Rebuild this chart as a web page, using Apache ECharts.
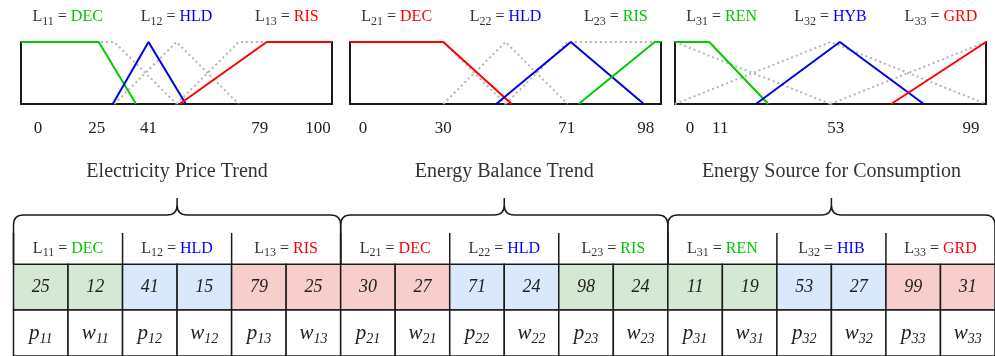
<!DOCTYPE html>
<html><head><meta charset="utf-8">
<script src="https://cdn.jsdelivr.net/npm/echarts@6/dist/echarts.min.js"></script>
<style>html,body{margin:0;padding:0;background:#fff}#c{width:995px;height:356px}</style>
</head><body><div id="c"></div>
<script>
// ---------------- data ----------------
const plotIndex = [['11','12','13'],['21','22','23'],['31','32','33']];
const plotTerms = [['DEC','HLD','RIS'],['DEC','HLD','RIS'],['REN','HYB','GRD']];
const plotTermColors = [['g','b','r'],['r','b','g'],['g','b','r']];
const plotTicks = [[0,25,41,79,100],[0,30,71,98],[0,11,53,99]];
// tuned membership functions (x 0..100, membership 0..1)
const mf1DEC = [[0,1],[25,1],[37,0]];
const mf1HLD = [[29.5,0],[41,1],[53,0]];
const mf1RIS = [[51,0],[79,1],[100,1]];
const mf2DEC = [[0,1],[30,1],[52,0]];
const mf2HLD = [[47,0],[71,1],[94.5,0]];
const mf2RIS = [[73.5,0],[98,1],[100,1]];
const mf3REN = [[0,1],[11,1],[30,0]];
const mf3HYB = [[26,0],[53,1],[80,0]];
const mf3GRD = [[69.5,0],[100,1]];
// initial partitions (grey dotted)
const baseLowA = [[0,1],[30,1],[50,0]];
const baseMidA = [[30,0],[50,1],[70,0]];
const baseHighA = [[50,0],[70,1],[100,1]];
const baseLowB = [[0,1],[50,0]];
const baseMidB = [[0,0],[50,1],[100,0]];
const baseHighB = [[50,0],[100,1]];

const groupTitles = ['Electricity Price Trend','Energy Balance Trend','Energy Source for Consumption'];
const pairIndex = ['11','12','13','21','22','23','31','32','33'];
const pairTerms = ['DEC','HLD','RIS','DEC','HLD','RIS','REN','HIB','GRD'];
const pairColors = ['g','b','r','r','b','g','g','b','r'];
const pValues = [25,41,79,30,71,98,11,53,99];
const wValues = [12,15,25,27,24,24,19,27,31];

// ---------------- styles / layout ----------------
const SERIF = '"Liberation Serif", "DejaVu Serif", serif';
const TXT = {g:'#00c800', b:'#0000ff', r:'#ff0000'};
const LINE = {g:'#00cc00', b:'#0000e6', r:'#ff0000'};
const FILL = {g:'#d5e8d4', b:'#dae8fc', r:'#f8cecc'};
const plotLeft = [21, 350, 675];
const plotW = 311;
const tickShift = [{0:17,25:-2,41:0,79:-7,100:-14},{0:13,30:0,71:-4,98:-9},{0:15,11:11,53:-4,99:-12}];
const labelPos = [15, 50, 85.5];
const tblLeft = 13.5, tblW = 983, colW = tblW/18;

const mfSets = [[mf1DEC,mf1HLD,mf1RIS],[mf2DEC,mf2HLD,mf2RIS],[mf3REN,mf3HYB,mf3GRD]];
const baseSets = [[baseLowA,baseMidA,baseHighA],[baseLowA,baseMidA,baseHighA],[baseLowB,baseMidB,baseHighB]];

const lblRich = {
  L:{fontFamily:SERIF,fontSize:16,fill:'#333'},
  s:{fontFamily:SERIF,fontSize:12,fill:'#333',padding:[9,0,0,0]},
  e:{fontFamily:SERIF,fontSize:16,fill:'#333'},
  g:{fontFamily:SERIF,fontSize:16,fill:TXT.g},
  b:{fontFamily:SERIF,fontSize:16,fill:TXT.b},
  r:{fontFamily:SERIF,fontSize:16,fill:TXT.r}
};
function lblText(idx, term, c){ return '{L|L}{s|'+idx+'}{e| = }{'+c+'|'+term+'}'; }

const grids = plotLeft.map(l => ({left:l, top:42, width:plotW, height:62}));
grids.push({left:tblLeft, top:233, width:tblW, height:126});

const xAxes = [], yAxes = [], series = [];
plotLeft.forEach((l, i) => {
  const rich = {};
  plotTicks[i].forEach(v => {
    const d = tickShift[i][v] || 0;
    rich['t'+v] = {fontFamily:SERIF,fontSize:17,color:'#222',padding: d>=0 ? [0,0,0,2*d] : [0,-2*d,0,0]};
  });
  xAxes.push({gridIndex:i,type:'value',min:0,max:100,splitLine:{show:false},axisTick:{show:false},
    axisLine:{show:true,onZero:false,lineStyle:{color:'#1a1a1a',width:2}},
    axisLabel:{customValues:plotTicks[i],margin:16,fontFamily:SERIF,fontSize:17,color:'#222',
      formatter:v => '{t'+v+'|'+v+'}', rich:rich}});
  yAxes.push({gridIndex:i,type:'value',min:0,max:1,position:'left',splitLine:{show:false},axisTick:{show:false},axisLabel:{show:false},
    axisLine:{show:true,onZero:false,lineStyle:{color:'#1a1a1a',width:2}}});
  yAxes.push({gridIndex:i,type:'value',min:0,max:1,position:'right',splitLine:{show:false},axisTick:{show:false},axisLabel:{show:false},
    axisLine:{show:true,onZero:false,lineStyle:{color:'#1a1a1a',width:2}}});
  baseSets[i].forEach(d => series.push({type:'line',xAxisIndex:i,yAxisIndex:2*i,data:d,showSymbol:false,silent:true,z:2,
    lineStyle:{color:'#b4b4b4',width:2,type:[2,3]}}));
  mfSets[i].forEach((d, k) => series.push({type:'line',xAxisIndex:i,yAxisIndex:2*i,data:d,showSymbol:false,silent:true,z:3,
    lineStyle:{color:LINE[plotTermColors[i][k]],width:2}}));
});
xAxes.push({gridIndex:3,type:'value',min:0,max:18,show:false});
yAxes.push({gridIndex:3,type:'value',min:-0.68,max:2,inverse:true,show:false});

// table cells
const cells = [];
pValues.forEach((p, k) => {
  cells.push({col:2*k,row:0,text:'{n|'+p+'}',fill:FILL[pairColors[k]]});
  cells.push({col:2*k+1,row:0,text:'{n|'+wValues[k]+'}',fill:FILL[pairColors[k]]});
  cells.push({col:2*k,row:1,text:'{m|p}{q|'+pairIndex[k]+'}',fill:'#fff'});
  cells.push({col:2*k+1,row:1,text:'{m|w}{q|'+pairIndex[k]+'}',fill:'#fff'});
});
const cellRich = {
  n:{fontFamily:SERIF,fontStyle:'italic',fontSize:18,fill:'#222'},
  m:{fontFamily:SERIF,fontStyle:'italic',fontSize:21,fill:'#222'},
  q:{fontFamily:SERIF,fontStyle:'italic',fontSize:14,fill:'#222',padding:[12,0,0,0]}
};
series.push({type:'custom',xAxisIndex:3,yAxisIndex:6,silent:true,z:3,
  data:cells.map(c => [c.col,c.row]),
  renderItem:(params, api) => {
    const c = cells[params.dataIndex];
    const a = api.coord([api.value(0), api.value(1)]);
    const b = api.coord([api.value(0)+1, api.value(1)+1]);
    return {type:'group',children:[
      {type:'rect',shape:{x:a[0],y:a[1],width:b[0]-a[0],height:b[1]-a[1]},style:{fill:c.fill,stroke:'#1a1a1a',lineWidth:1.5}},
      {type:'text',style:{x:(a[0]+b[0])/2,y:(a[1]+b[1])/2,text:c.text,rich:cellRich,align:'center',verticalAlign:'middle'}}
    ]};
  }});
// header labels and dividers
series.push({type:'custom',xAxisIndex:3,yAxisIndex:6,silent:true,z:3,
  data:pairIndex.map((s, k) => [2*k, 0]),
  renderItem:(params, api) => {
    const k = params.dataIndex;
    const a = api.coord([api.value(0), -0.68]);
    const b = api.coord([api.value(0)+2, 0]);
    const m = api.coord([api.value(0)+1, -0.34]);
    return {type:'group',children:[
      {type:'line',shape:{x1:a[0],y1:a[1],x2:a[0],y2:b[1]},style:{stroke:'#1a1a1a',lineWidth:1.5}},
      {type:'text',style:{x:m[0],y:m[1],text:lblText(pairIndex[k],pairTerms[k],pairColors[k]),rich:lblRich,align:'center',verticalAlign:'middle'}}
    ]};
  }});
// braces over the three groups
function bracePath(x0, x1, yB, yH, yTip, r){
  const m = (x0+x1)/2;
  return 'M'+x0+' '+yB+' L'+x0+' '+(yH+r)+' Q'+x0+' '+yH+' '+(x0+r)+' '+yH+
    ' L'+(m-r)+' '+yH+' Q'+m+' '+yH+' '+m+' '+(yH-r)+' L'+m+' '+yTip+
    ' M'+m+' '+(yH-r)+' Q'+m+' '+yH+' '+(m+r)+' '+yH+
    ' L'+(x1-r)+' '+yH+' Q'+x1+' '+yH+' '+x1+' '+(yH+r)+' L'+x1+' '+yB;
}
series.push({type:'custom',xAxisIndex:3,yAxisIndex:6,silent:true,z:4,
  data:groupTitles.map((t, g) => [6*g, 0]),
  renderItem:(params, api) => {
    const g = params.dataIndex;
    const a = api.coord([api.value(0), 0]);
    const b = api.coord([api.value(0)+6, 0]);
    const top = api.coord([0, -0.68])[1];
    const yH = top - 18, yTip = top - 35;
    return {type:'group',children:[
      {type:'path',shape:{pathData:bracePath(a[0], b[0], a[1], yH, yTip, 10)},style:{fill:null,stroke:'#1a1a1a',lineWidth:1.5}},
      {type:'text',style:{x:(a[0]+b[0])/2,y:top-61,text:groupTitles[g],fontFamily:SERIF,fontSize:20,fill:'#333',align:'center',verticalAlign:'middle'}}
    ]};
  }});

// top labels above the membership plots
const graphic = [];
plotLeft.forEach((l, i) => {
  for (let k = 0; k < 3; k++) {
    graphic.push({type:'text',x:l + plotW*labelPos[k]/100,y:17,
      style:{text:lblText(plotIndex[i][k],plotTerms[i][k],plotTermColors[i][k]),rich:lblRich,align:'center',verticalAlign:'middle'}});
  }
});

const chart = echarts.init(document.getElementById('c'), null, {renderer:'canvas'});
chart.setOption({
  animation:false,
  backgroundColor:'#fff',
  grid:grids, xAxis:xAxes, yAxis:yAxes, series:series, graphic:graphic
});
</script></body></html>
